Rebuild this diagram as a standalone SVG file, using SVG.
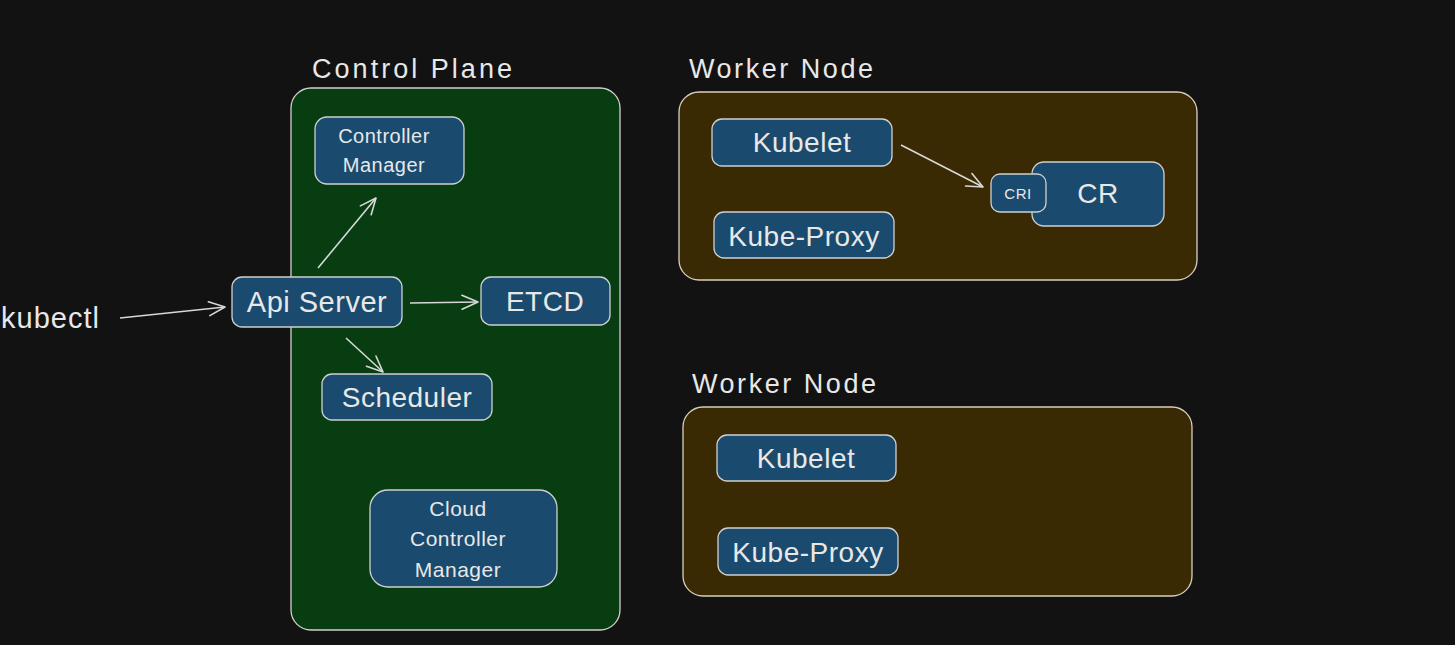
<svg xmlns="http://www.w3.org/2000/svg" width="1455" height="645" viewBox="0 0 1455 645">
<defs>
<marker id="ah" viewBox="0 0 20 20" refX="18" refY="10" markerWidth="20" markerHeight="20" markerUnits="userSpaceOnUse" orient="auto">
<path d="M2,3 L18,10 L2,17" fill="none" stroke="#d8d8d8" stroke-width="1.6" stroke-linecap="round" stroke-linejoin="round"/>
</marker>
</defs>
<style>
.lbl{font-family:"Liberation Sans","Noto Sans",sans-serif;fill:#e8e8e8;}
.box{fill:#1a4a6e;stroke:#d0d0d0;stroke-width:1.3;}
.cp{fill:#073d10;stroke:#d0d0d0;stroke-width:1.3;}
.wn{fill:#3a2a04;stroke:#d8d0c0;stroke-width:1.3;}
.t{font-family:"Liberation Sans","Noto Sans",sans-serif;fill:#e8e8e8;text-anchor:middle;letter-spacing:0.5px;}
.conn{stroke:#d8d8d8;stroke-width:1.6;fill:none;marker-end:url(#ah);}
</style>
<rect width="1455" height="645" fill="#121212"/>

<g id="control-plane">
<text class="lbl" x="312" y="78" font-size="27" textLength="200" lengthAdjust="spacing">Control Plane</text>
<rect class="cp" x="291" y="88" width="329" height="542" rx="20"/>
</g>

<g id="worker-node-1">
<text class="lbl" x="689" y="78" font-size="27" textLength="184" lengthAdjust="spacing">Worker Node</text>
<rect class="wn" x="679" y="92" width="518" height="188" rx="20"/>
</g>

<g id="worker-node-2">
<text class="lbl" x="692" y="393" font-size="27" textLength="184" lengthAdjust="spacing">Worker Node</text>
<rect class="wn" x="683" y="407" width="509" height="189" rx="20"/>
</g>

<g id="kubectl">
<text class="lbl" x="1" y="328" font-size="29" textLength="98" lengthAdjust="spacing">kubectl</text>
</g>

<g id="controller-manager">
<rect class="box" x="315" y="117" width="149" height="67" rx="12"/>
<text class="t" x="384" y="143" font-size="20">Controller</text>
<text class="t" x="384" y="172" font-size="20">Manager</text>
</g>

<g id="api-server">
<rect class="box" x="232" y="277" width="170" height="50" rx="10"/>
<text class="t" x="317" y="312" font-size="29">Api Server</text>
</g>

<g id="etcd">
<rect class="box" x="481" y="277" width="129" height="48" rx="10"/>
<text class="t" x="545" y="311" font-size="28">ETCD</text>
</g>

<g id="scheduler">
<rect class="box" x="322" y="374" width="170" height="46" rx="10"/>
<text class="t" x="407" y="407" font-size="28">Scheduler</text>
</g>

<g id="cloud-controller-manager">
<rect class="box" x="370" y="490" width="187" height="97" rx="18"/>
<text class="t" x="458" y="516" font-size="21">Cloud</text>
<text class="t" x="458" y="546" font-size="21">Controller</text>
<text class="t" x="458" y="577" font-size="21">Manager</text>
</g>

<g id="kubelet-1">
<rect class="box" x="712" y="119" width="180" height="47" rx="10"/>
<text class="t" x="802" y="152" font-size="28">Kubelet</text>
</g>

<g id="kube-proxy-1">
<rect class="box" x="714" y="212" width="180" height="46" rx="10"/>
<text class="t" x="804" y="246" font-size="28">Kube-Proxy</text>
</g>

<g id="cr">
<rect class="box" x="1032" y="162" width="132" height="64" rx="12"/>
<text class="t" x="1098" y="203" font-size="28">CR</text>
</g>

<g id="cri">
<rect class="box" x="991" y="174" width="55" height="38" rx="9"/>
<text class="t" x="1018" y="199" font-size="15">CRI</text>
</g>

<g id="kubelet-2">
<rect class="box" x="717" y="435" width="179" height="46" rx="10"/>
<text class="t" x="806" y="468" font-size="28">Kubelet</text>
</g>

<g id="kube-proxy-2">
<rect class="box" x="718" y="528" width="180" height="47" rx="10"/>
<text class="t" x="808" y="562" font-size="28">Kube-Proxy</text>
</g>

<g id="connectors">
<path class="conn" d="M120,318 L225,307"/>
<path class="conn" d="M318,268 L376,198"/>
<path class="conn" d="M410,303 L478,302"/>
<path class="conn" d="M346,338 L383,372"/>
<path class="conn" d="M901,145 L983,187"/>
</g>
</svg>
